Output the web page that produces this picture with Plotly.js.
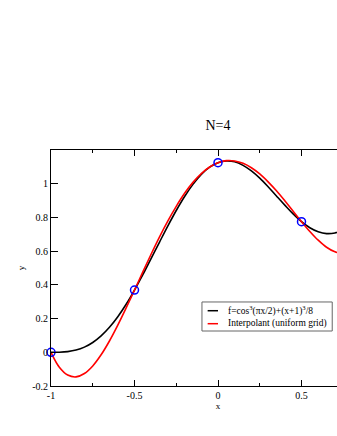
<!DOCTYPE html>
<html>
<head>
<meta charset="utf-8">
<script src="https://cdn.plot.ly/plotly-3.0.1.min.js"></script>
<style>
  html, body { margin: 0; padding: 0; overflow: hidden; background: #fff; }
  #chart { width: 400px; height: 436px; }
</style>
</head>
<body>
<div id="chart"></div>
<script>
// x samples
const xs = [-1, -0.95, -0.9, -0.85, -0.8, -0.75, -0.7, -0.65, -0.6, -0.55, -0.5,
  -0.45, -0.4, -0.35, -0.3, -0.25, -0.2, -0.15, -0.1, -0.05, 0,
  0.05, 0.1, 0.15, 0.2, 0.25, 0.3, 0.35, 0.4, 0.45, 0.5,
  0.55, 0.6, 0.65, 0.7, 0.75, 0.8, 0.85, 0.9, 0.95, 1];

// black curve f
const fValues = [0, 0.0005, 0.004, 0.0131, 0.0305, 0.058, 0.097, 0.148, 0.211, 0.285, 0.369,
  0.460, 0.557, 0.654, 0.750, 0.841, 0.924, 0.996, 1.055, 1.098, 1.125,
  1.135, 1.130, 1.109, 1.076, 1.033, 0.982, 0.927, 0.873, 0.821, 0.775,
  0.739, 0.715, 0.704, 0.708, 0.726, 0.759, 0.804, 0.861, 0.927, 1];

// red curve, interpolant
const pValues = [0, -0.0885, -0.135, -0.146, -0.126, -0.081, -0.015, 0.067, 0.161, 0.263, 0.369,
  0.477, 0.583, 0.685, 0.780, 0.866, 0.943, 1.008, 1.060, 1.099, 1.125,
  1.137, 1.135, 1.121, 1.095, 1.058, 1.011, 0.958, 0.899, 0.837, 0.775,
  0.717, 0.665, 0.623, 0.596, 0.587, 0.602, 0.645, 0.722, 0.838, 1];

// grid nodes
const nodeX = [-1, -0.5, 0, 0.5, 1];
const nodeY = [0, 0.369, 1.125, 0.775, 1];

const xTickVals = [-1, -0.5, 0, 0.5];
const xTickText = ['-1', '-0.5', '0', '0.5'];
const yTickVals = [-0.2, 0, 0.2, 0.4, 0.6, 0.8, 1];
const yTickText = ['-0.2', '0', '0.2', '0.4', '0.6', '0.8', '1'];

const legendNames = ['f=cos<sup>3</sup>(πx/2)+(x+1)<sup>3</sup>/8', 'Interpolant (uniform grid)'];
const legendColors = ['#000000', '#ff0000'];

const serif = 'Liberation Serif, Times New Roman, serif';

const traces = [
  {
    x: xs, y: fValues, type: 'scatter', mode: 'lines',
    name: legendNames[0],
    line: { color: legendColors[0], width: 1.6, shape: 'spline' }
  },
  {
    x: xs, y: pValues, type: 'scatter', mode: 'lines',
    name: legendNames[1],
    line: { color: legendColors[1], width: 1.6, shape: 'spline' }
  },
  {
    x: nodeX, y: nodeY, type: 'scatter', mode: 'markers',
    cliponaxis: false,
    marker: { symbol: 'circle-open', size: 8, color: '#0000ff', line: { width: 1.5, color: '#0000ff' } }
  }
];

// hand-made legend box (paper coords)
const legBox = { x0: 0.452, x1: 0.842, y0: 0.233, y1: 0.356 };
const legRows = [0.319, 0.264];
const shapes = [
  { type: 'rect', xref: 'paper', yref: 'paper', x0: legBox.x0, x1: legBox.x1, y0: legBox.y0, y1: legBox.y1,
    line: { color: '#666', width: 1 }, fillcolor: '#ffffff', layer: 'above' }
];
const annotations = [];
legRows.forEach((ry, i) => {
  shapes.push({ type: 'line', xref: 'paper', yref: 'paper', x0: 0.469, x1: 0.5, y0: ry, y1: ry,
    line: { color: legendColors[i], width: 1.5 }, layer: 'above' });
  annotations.push({ xref: 'paper', yref: 'paper', x: 0.523, y: ry, xanchor: 'left', yanchor: 'middle',
    text: legendNames[i], showarrow: false, font: { family: serif, size: 9.5, color: '#000' } });
});

const layout = {
  width: 400,
  height: 436,
  margin: { l: 51, r: 15, t: 150, b: 50 },
  paper_bgcolor: '#ffffff',
  plot_bgcolor: '#ffffff',
  font: { family: serif, size: 10, color: '#000' },
  title: {
    text: 'N=4',
    font: { family: serif, size: 14, color: '#000' },
    x: 0.5, xref: 'paper', xanchor: 'center',
    y: 1 - 125 / 436, yref: 'container', yanchor: 'middle'
  },
  showlegend: false,
  shapes: shapes,
  annotations: annotations,
  xaxis: {
    range: [-1, 1],
    title: { text: 'x', font: { family: serif, size: 9 }, standoff: 2 },
    tickvals: xTickVals, ticktext: xTickText,
    ticks: 'inside', ticklen: 6, tickcolor: '#000', tickwidth: 1,
    minor: { dtick: 0.25, ticks: 'inside', ticklen: 3, tickcolor: '#000' },
    showline: true, linecolor: '#000', linewidth: 1, mirror: 'ticks',
    showgrid: false, zeroline: false,
    tickfont: { family: serif, size: 10 }
  },
  yaxis: {
    range: [-0.2, 1.2],
    title: { text: 'y', font: { family: serif, size: 9 }, standoff: 6 },
    tickvals: yTickVals, ticktext: yTickText,
    ticks: 'inside', ticklen: 7, tickcolor: '#000', tickwidth: 1,
    showline: true, linecolor: '#000', linewidth: 1, mirror: 'ticks',
    showgrid: false, zeroline: false,
    tickfont: { family: serif, size: 10 }
  }
};

Plotly.newPlot('chart', traces, layout, { displayModeBar: false, staticPlot: true });
</script>
</body>
</html>
